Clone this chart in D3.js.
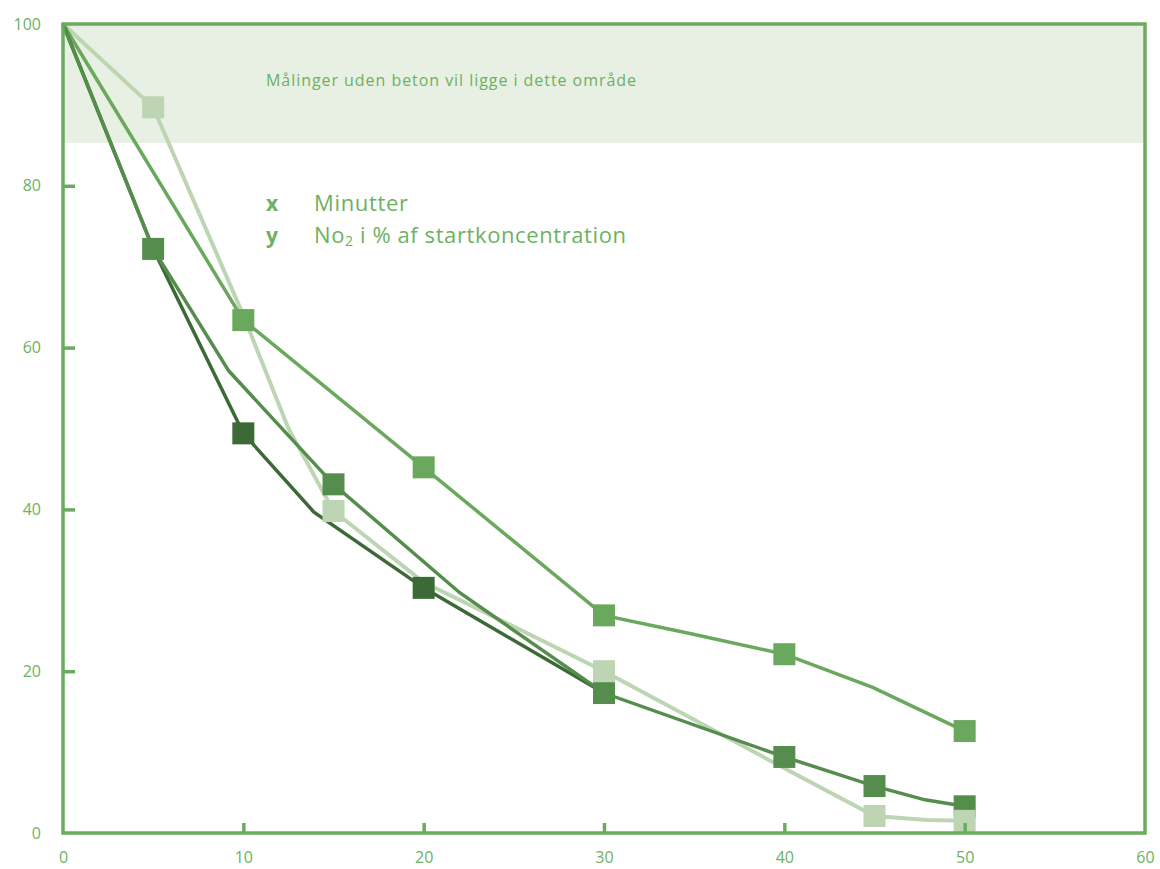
<!DOCTYPE html>
<html><head><meta charset="utf-8">
<script src="https://cdn.jsdelivr.net/npm/d3@7"></script>
<style>html,body{margin:0;padding:0;background:#fff}svg{display:block;font-family:"Open Sans","Liberation Sans",sans-serif}</style>
</head><body><svg id="c" width="1160" height="869"></svg>
<script>
const xTicks = [0,10,20,30,40,50,60];
const yTicks = [0,20,40,60,80,100];
const bandRange = [85.3, 100];
const bandLabel = "Målinger uden beton vil ligge i dette område";
const legendKeys = ["x","y"];
const legendLabels = ["Minutter","No₂ i % af startkoncentration"];

const seriesNames = ["B","C","D","A"];
const seriesColors = ["#6aa85d","#558d4d","#3c6a36","#bdd5b3"];
// line vertices
const lineB = [[0,100],[10,63.4],[20,45.2],[30,26.9],[34.7,24.7],[40,22.1],[44.9,18.0],[50,12.6]];
const lineC = [[0,100],[5,72.2],[9.2,57.1],[15,43.1],[22,29.7],[30,17.3],[40,9.4],[45,5.8],[47.8,4.1],[50,3.3]];
const lineD = [[0,100],[5,72.2],[10,49.4],[13.9,39.7],[20,30.3],[30,17.3]];
const lineA = [[0,100],[5,89.7],[10,64],[12.5,50],[15,39.8],[20,31],[30,20.0],[40,8.0],[45,2.1],[47.9,1.6],[50,1.5]];
// marker points
const markB = [[10,63.4],[20,45.2],[30,26.9],[40,22.1],[50,12.6]];
const markC = [[5,72.2],[15,43.1],[30,17.3],[40,9.4],[45,5.8],[50,3.3]];
const markD = [[10,49.4],[20,30.3]];
const markA = [[5,89.7],[15,39.8],[30,20.0],[45,2.1],[50,1.5]];

const axisColor = "#6aab5e", textColor = "#6db163", bandColor = "#e7f0e2";
const svg = d3.select("#c");
const x = d3.scaleLinear().domain([0,60]).range([63,1145]);
const y = d3.scaleLinear().domain([0,100]).range([833,24]);

// band
svg.append("rect").attr("x",x(0)).attr("y",y(bandRange[1])).attr("width",x(60)-x(0))
  .attr("height",y(bandRange[0])-y(bandRange[1])).attr("fill",bandColor);
svg.append("text").attr("x",266).attr("y",86).attr("fill",textColor).attr("font-size",16)
  .attr("textLength",370).attr("lengthAdjust","spacing").text(bandLabel);

// legend
const legLen = [94, 312];
legendKeys.forEach((k,i)=>{
  svg.append("text").attr("x",266).attr("y",211+i*32).attr("fill",textColor).attr("font-size",21).attr("font-weight","bold").text(k);
  const t = svg.append("text").attr("x",314).attr("y",211+i*32).attr("fill",textColor).attr("font-size",22)
    .attr("textLength",legLen[i]).attr("lengthAdjust","spacing");
  if(legendLabels[i].includes("₂")){
    const parts = legendLabels[i].split("₂");
    t.append("tspan").text(parts[0]);
    t.append("tspan").attr("font-size",14).attr("dy",3).text("2");
    t.append("tspan").attr("dy",-3).text(parts[1]);
  } else t.text(legendLabels[i]);
});

const line = d3.line().x(d=>x(d[0])).y(d=>y(d[1]));
const lines = [lineB,lineC,lineD,lineA];
const widths = [3.5,3.5,3.5,4];
const order = [3,0,2,1];
order.forEach(i=>{
  svg.append("path").datum(lines[i]).attr("d",line).attr("fill","none")
    .attr("stroke",seriesColors[i]).attr("stroke-width",widths[i]).attr("stroke-linejoin","miter");
});
const marks = [markB,markC,markD,markA];
const ms = 22;
[0,1,2,3].forEach(i=>{
  svg.append("g").selectAll("rect").data(marks[i]).join("rect")
    .attr("x",d=>x(d[0])-ms/2).attr("y",d=>y(d[1])-ms/2).attr("width",ms).attr("height",ms)
    .attr("fill",seriesColors[i]);
});

// frame
svg.append("rect").attr("x",x(0)).attr("y",y(100)).attr("width",x(60)-x(0)).attr("height",y(0)-y(100))
  .attr("fill","none").attr("stroke",axisColor).attr("stroke-width",3.5);

// axes
const xAxis = d3.axisBottom(x).tickValues(xTicks).tickSize(-10).tickPadding(19).tickFormat(d3.format("d"));
const gx = svg.append("g").attr("transform",`translate(0,${y(0)})`).call(xAxis);
const yAxis = d3.axisLeft(y).tickValues(yTicks).tickSize(-12).tickPadding(22).tickFormat(d3.format("d"));
const gy = svg.append("g").attr("transform",`translate(${x(0)},0)`).call(yAxis);
[gx,gy].forEach(g=>{
  g.select(".domain").remove();
  g.selectAll(".tick line").attr("stroke",axisColor).attr("stroke-width",3.5);
  g.selectAll(".tick text").attr("fill",textColor).attr("font-size",16).attr("font-family","'Open Sans',sans-serif");
});
gx.selectAll(".tick").filter(d=>d===0||d===60).select("line").remove();
gy.selectAll(".tick").filter(d=>d===0||d===100).select("line").remove();
</script></body></html>
